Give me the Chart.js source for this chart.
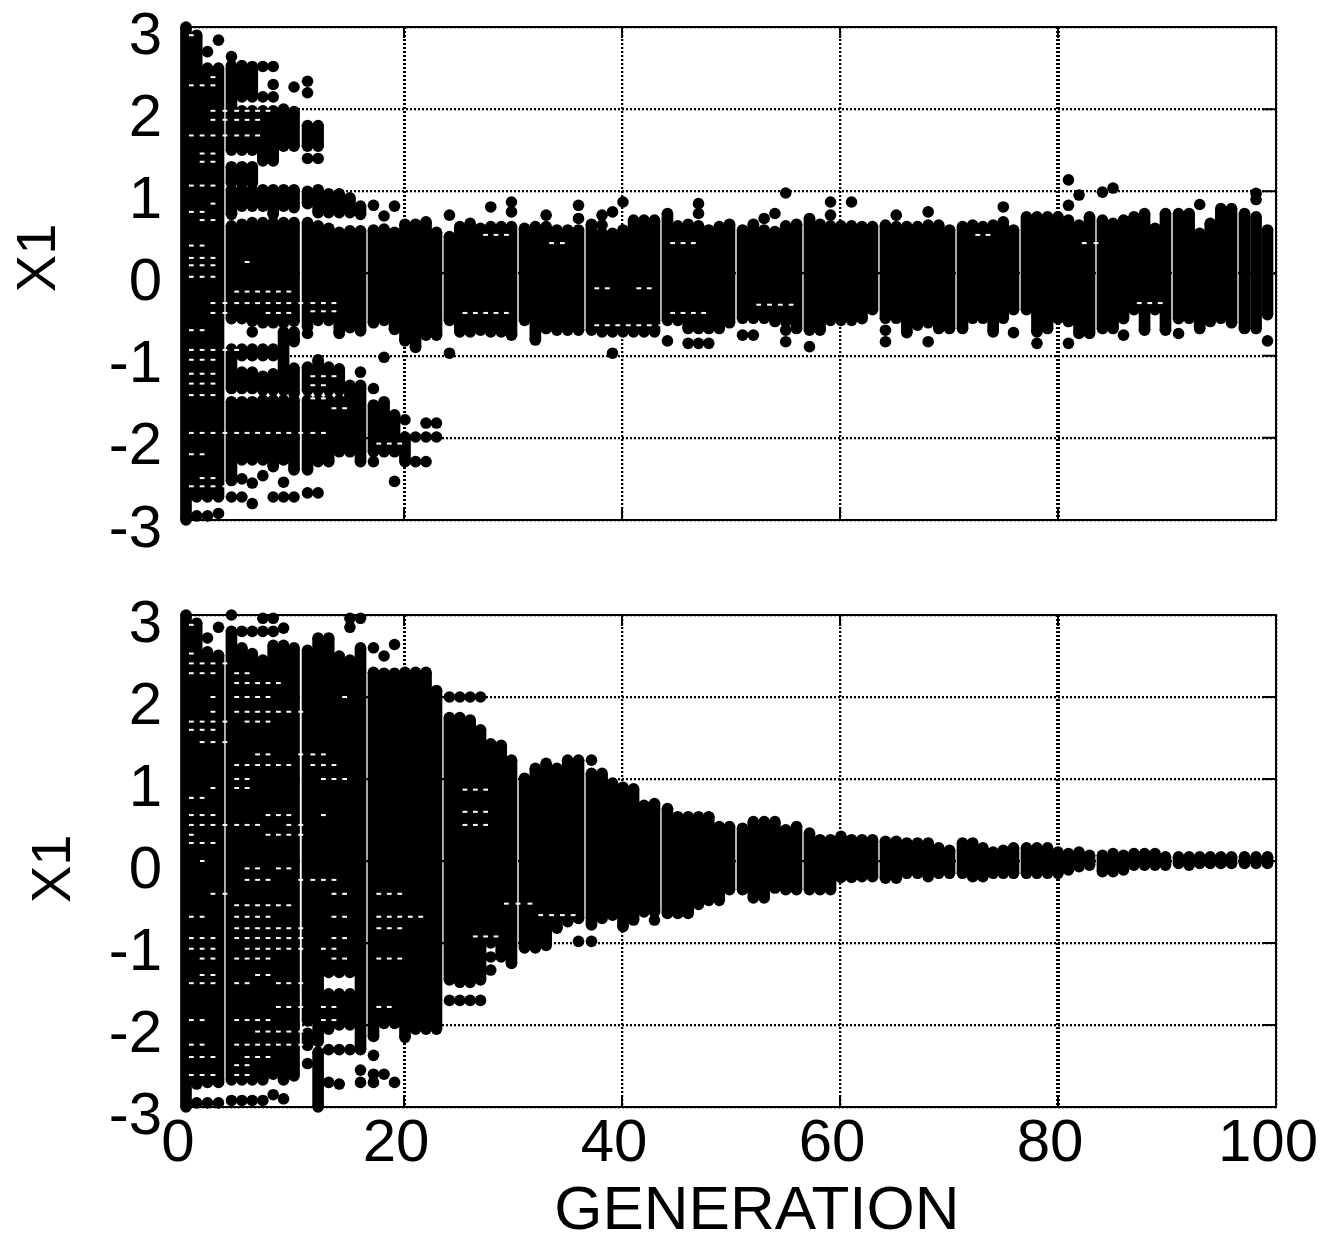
<!DOCTYPE html>
<html>
<head>
<meta charset="utf-8">
<title>X1 by generation</title>
<script src="https://cdn.jsdelivr.net/npm/chart.js@4/dist/chart.umd.js"></script>
<style>
  html, body { margin: 0; padding: 0; background: #fff; }
  canvas { position: absolute; left: 0; }
  #topChart { top: 0; }
  #bottomChart { top: 590px; }
</style>
</head>
<body>
<canvas id="topChart" width="1339" height="590"></canvas>
<canvas id="bottomChart" width="1339" height="653"></canvas>
<script>
// x position of each plotted column (generation units)
const generations = [
  0, 0.98, 1.97, 2.98,
  4.17, 5.13, 6.08, 7.05, 8.0, 8.95, 9.91,
  11.15, 12.12, 13.09, 14.06, 15.04, 16.01,
  17.2, 18.17, 19.13, 20.09, 21.06, 22.02, 22.98,
  24.17, 25.12, 26.07, 27.02, 27.96, 28.92, 29.86,
  31.06, 32.05, 33.04, 34.03, 35.02, 36.01,
  37.2, 38.17, 39.13, 40.09, 41.06, 42.02, 42.98,
  44.17, 45.12, 46.07, 47.02, 47.96, 48.92, 49.86,
  51.06, 52.05, 53.04, 54.03, 55.02, 56.01,
  57.2, 58.17, 59.13, 60.09, 61.06, 62.02, 62.98,
  64.17, 65.16, 66.13, 67.11, 68.09, 69.06, 70.05,
  71.24, 72.17, 73.11, 74.05, 74.98, 75.92,
  77.11, 78.07, 79.04, 80, 80.96, 81.93, 82.89,
  84.08, 85.05, 86.01, 86.97, 87.94, 88.9, 89.86,
  91.06, 92.03, 93, 93.97, 94.94, 95.92,
  97.11, 98.17, 99.22
];

const xTickValues = [0, 20, 40, 60, 80, 100];
const yTickValues = [-3, -2, -1, 0, 1, 2, 3];

// one entry per column: a number is a lone individual, [hi, lo] is a packed run of them
const topColumns = [
  [[3,-3]],
  [[2.9,-2.72],-2.95],
  [2.7,[2.5,-2.72],-2.95],
  [2.84,[2.5,-2.72],-2.92],
  [2.64,[2.53,1.5],[1.3,1.1],[1.02,.72],[.58,-.55],[-.92,-1.4],[-1.56,-2.52],-2.72],
  [[2.53,2.15],[1.98,1.5],[1.3,1.1],[1.02,.82],[.6,-.55],[-.92,-1.0],[-1.2,-1.4],[-1.56,-2.27],-2.5,-2.72],
  [[2.52,2.15],[1.98,1.5],[1.3,1.1],[1.02,.82],[.62,-.58],-.71,[-.92,-1.0],[-1.2,-1.4],[-1.56,-2.27],-2.55,-2.8],
  [2.52,2.15,[1.98,1.37],[1.02,.82],[.62,-.6],[-.92,-1.0],[-1.25,-1.42],[-1.54,-2.27],-2.46],
  [2.52,2.3,2.15,[1.98,1.37],[1.02,.72],[.62,-.6],[-.92,-1.0],[-1.22,-1.42],[-1.54,-2.35],-2.72],
  [[2.0,1.55],[1.02,.82],[.62,-.6],[-.71,-1.42],[-1.54,-2.27],-2.54,-2.72],
  [2.27,[1.97,1.55],[1.02,.8],[.62,-.58],[-.71,-.83],[-1.15,-1.46],[-1.54,-2.39],-2.72],
  [2.34,2.2,[1.8,1.55],1.4,[1,.85],[.62,-.65],-.73,[-1.14,-1.42],[-1.54,-2.39],-2.67],
  [[1.8,1.55],1.4,[1.02,.74],[.58,-.57],[-1.05,-1.42],[-1.54,-2.29],-2.67],
  [[.97,.74],[.55,-.57],[-1.14,-1.42],[-1.54,-2.29]],
  [[.97,.74],[.5,-.73],[-1.16,-1.42],[-1.54,-2.17]],
  [[.92,.74],[.52,-.66],[-1.36,-2.17]],
  [[.82,.72],[.52,-.7],-1.2,[-1.36,-2.29]],
  [.83,[.53,-.6],-1.4,[-1.6,-2.17],-2.29],
  [.7,[.54,-.57],-1.02,[-1.56,-2.17]],
  [.82,[.5,-.68],[-1.72,-2.17],-2.53],
  [[.6,-.82],-1.78,[-1.99,-2.29]],
  [[.6,-.9],-1.99,-2.29],
  [[.63,-.75],-1.82,-1.99,-2.29],
  [[.5,-.75],-1.82,-1.99],
  [.71,[.45,-.57],-.97], [[.57,-.71]], [[.61,-.71]], [[.55,-.69]], [.81,[.57,-.71]], [[.57,-.71]], [.87,.75,[.57,-.75]],
  [[.55,-.57]], [[.57,-.81]], [.71,[.57,-.67]], [[.53,-.69]], [[.53,-.69]], [.83,.67,[.53,-.69]],
  [[.6,-.69]], [.71,.59,[.49,-.71]], [.75,[.49,-.71],-.97], [.87,[.53,-.71]], [[.65,-.71]], [[.65,-.71]], [[.65,-.71]],
  [[.73,-.57],-.82], [[.58,-.57]], [[.6,-.67],-.85], [.85,.73,[.58,-.67],-.85], [[.53,-.67],-.85], [[.57,-.67]], [[.6,-.6]],
  [[.53,-.545],-.75], [[.6,-.545],-.75], [.67,[.53,-.545]], [.73,[.51,-.585]], [.98,[.58,-.585],-.69,-.83], [[.6,-.67]],
  [[.67,-.69],-.89], [[.6,-.69]], [.87,.71,[.58,-.57]], [[.58,-.57]], [.87,[.58,-.57]], [[.57,-.55]], [[.57,-.44]],
  [[.59,-.545],-.69,-.83], [.71,[.57,-.545]], [[.57,-.72]], [[.57,-.63]], [.75,[.59,-.6],-.83], [[.59,-.67]], [[.53,-.67]],
  [[.57,-.67]], [[.59,-.545]], [[.57,-.545]], [[.59,-.71]], [.81,[.63,-.545]], [[.53,-.44],-.72],
  [[.69,-.44]], [[.69,-.71],-.85], [[.69,-.67]], [[.69,-.55]], [1.14,.83,[.65,-.585],-.85], [.955,[.59,-.73]], [[.69,-.73]],
  [.99,[.65,-.67]], [1.04,[.61,-.67]], [[.65,-.55],-.75], [[.69,-.44]], [[.73,-.69]], [[.55,-.44]], [[.73,-.69]],
  [[.73,-.55],-.73], [[.73,-.545]], [.84,[.49,-.67]], [[.61,-.585]], [[.79,-.545]], [[.79,-.6]],
  [[.73,-.67]], [.975,.9,[.69,-.67]], [[.53,-.5],-.82]
];

const bottomColumns = [
  [[3,-3]],
  [[2.9,-2.72],-2.95],
  [2.72,[2.55,-2.7],-2.95],
  [2.85,[2.51,-2.7],-2.95],
  [3,[2.8,-2.67],-2.92],
  [2.8,[2.6,-2.67],-2.92],
  [2.8,[2.53,-2.67],-2.92],
  [2.96,2.8,[2.45,-2.67],-2.92],
  [2.96,2.8,[2.63,-2.6],-2.85],
  [2.84,[2.63,-2.67],-2.9],
  [[2.6,-2.62]],
  [[2.57,-1.95],[-2.1,-2.25],-2.47],
  [[2.72,-2.2],[-2.33,-3]],
  [[2.72,-1.36],[-1.62,-2.05],-2.3,-2.7],
  [[2.5,-1.36],[-1.62,-2.0],-2.3,-2.72],
  [2.96,2.85,[2.45,-1.36],[-1.62,-2.0],-2.3],
  [2.96,[2.6,-2.3],-2.55,-2.7],
  [2.6,[2.3,-2.14],-2.37,-2.6,-2.7],
  [2.5,[2.29,-1.98],-2.6],
  [2.64,[2.29,-1.98],-2.7],
  [[2.3,-2.15]],
  [[2.3,-2.05]],
  [[2.3,-2.05]],
  [[2.08,-2.05]],
  [2.0,[1.75,-1.45],-1.7], [2.0,[1.75,-1.48],-1.7], [2.0,[1.72,-1.48],-1.7], [2.0,[1.6,-1.45],-1.7], [[1.43,-1.0],-1.17,-1.33], [[1.41,-1.17]], [[1.23,-1.25]],
  [[1.01,-1.06]], [[1.13,-1.06]], [[1.19,-1.03]], [[1.13,-.82]], [[1.23,-.74]], [[1.23,-.7],-.98],
  [1.23,[1.07,-.78],-.98], [[1.07,-.7]], [[.95,-.66]], [[.9,-.8]], [[.88,-.72]], [[.68,-.62]], [[.7,-.62],-.72],
  [[.64,-.64]], [[.54,-.64]], [[.54,-.64]], [[.54,-.53]], [[.54,-.48]], [[.42,-.48]], [[.42,-.35]],
  [[.4,-.35]], [[.48,-.45]], [[.48,-.45]], [[.48,-.33]], [[.38,-.35]], [[.42,-.35]],
  [[.34,-.35]], [[.26,-.35]], [[.26,-.35]], [[.3,-.2]], [[.26,-.2]], [[.26,-.19]], [[.26,-.19]],
  [[.24,-.21]], [[.24,-.21]], [[.22,-.15]], [[.22,-.15]], [[.22,-.19]], [[.16,-.15]], [[.13,-.15]],
  [[.22,-.15]], [[.22,-.19]], [[.16,-.19]], [[.11,-.15]], [[.13,-.15]], [[.16,-.15]],
  [[.16,-.15]], [[.16,-.15]], [[.16,-.15]], [[.11,-.15]], [[.09,-.11]], [[.11,-.07]], [[.07,-.05]],
  [[.07,-.13]], [[.09,-.13]], [[.07,-.11]], [[.09,-.05]], [[.09,-.05]], [[.09,-.05]], [[.05,-.05]],
  [[.05,-.03]], [[.05,-.05]], [[.05,-.03]], [[.05,-.03]], [[.05,-.03]], [[.05,-.03]],
  [[.05,-.03]], [[.05,-.03]], [[.05,-.03]]
];

// small unfilled gaps inside the packed runs: [value, first column, last column]
const topGaps = [
  [2.9,0,0],[2.39,2,2],[2.29,0,2],[1.98,2,7],[1.87,2,6],[1.68,0,3],[1.68,4,6],[1.46,1,2],[1.36,1,2],
  [1.07,0,2],[.85,2,2],[.75,0,1],[.65,1,2],[.34,0,1],[.19,0,2],[.14,5,5],[.1,0,2],[-.04,0,2],
  [-.22,4,9],[-.36,2,13],[-.48,2,3],[-.48,7,9],[-.46,11,13],[-.69,0,1],[-.93,0,4],[-1.05,0,2],
  [-1.22,0,2],[-1.34,0,2],[-1.48,0,2],[-1.48,4,5],[-1.25,11,13],[-1.36,11,12],[-1.52,11,12],[-1.64,13,14],
  [-1.94,0,12],[-2.2,0,1],[-2.49,1,2],[-2.59,0,3],[-2.07,17,19],
  [.47,27,29],[-.48,25,29],[-.63,37,43],[-.18,37,38],[-.18,41,42],[.37,33,34],[.37,44,46],[-.48,44,47],
  [-.38,52,55],[.47,72,73],[-.36,87,89],[.37,82,83]
];

const bottomGaps = [
  [2.88,0,0],[2.53,0,0],[2.41,0,3],[2.29,0,2],[2.29,4,5],[2.17,4,8],[2.0,2,2],[2.0,4,7],[2.0,14,14],
  [1.82,2,2],[1.82,4,7],[1.82,8,10],[1.7,0,3],[1.7,5,7],[1.6,0,2],[1.45,1,3],[1.3,6,7],[1.3,10,11],
  [1.3,12,12],[1.17,4,5],[1.17,6,7],[1.17,8,9],[1.17,11,13],[1.0,4,5],[1.0,12,14],[.89,4,5],[.89,2,2],
  [.77,0,1],[.56,0,2],[.56,7,9],[.56,12,12],[.44,0,3],[.44,4,6],[.44,9,10],[.32,0,0],[.32,7,10],[.22,0,2],
  [0,0,1],[-.09,5,6],[-.09,8,9],[-.23,5,7],[-.23,10,11],[-.23,12,13],[-.4,2,3],[-.4,13,14],[-.4,17,19],
  [-.54,4,7],[-.54,8,9],[-.68,0,1],[-.68,4,7],[-.68,13,14],[-.68,17,19],[-.68,20,21],[-.82,4,7],[-.82,8,10],
  [-.82,17,19],[-.94,0,2],[-.94,4,7],[-.94,8,10],[-.94,13,14],[-1.07,0,2],[-1.07,5,7],[-1.07,8,10],[-1.07,12,13],
  [-1.19,1,2],[-1.19,4,5],[-1.19,6,7],[-1.19,13,14],[-1.19,17,19],[-1.39,1,2],[-1.39,6,7],[-1.49,0,2],[-1.49,4,5],[-1.49,8,10],
  [-1.78,8,10],[-1.78,12,13],[-1.78,17,18],[-1.94,0,1],[-1.94,4,7],[-1.94,12,13],[-2.08,6,7],[-2.08,8,10],
  [-2.24,0,1],[-2.24,4,7],[-2.24,8,10],[-2.39,0,2],[-2.39,5,7],[-2.49,4,5],[-2.61,0,2],[-2.61,4,5],
  [.87,25,27],[.6,25,27],[.44,25,27],[-.52,29,31],[-.66,32,35],[-.92,26,28]
];

// inward solid tick marks and the box round each plot
const axisBox = {
  id: 'axisBox',
  afterDatasetsDraw(chart) {
    const { ctx, chartArea: a, scales } = chart;
    ctx.save();
    ctx.strokeStyle = '#000';
    ctx.lineWidth = 2;
    ctx.strokeRect(a.left, a.top, a.right - a.left, a.bottom - a.top);
    ctx.beginPath();
    scales.x.ticks.forEach(t => {
      const px = scales.x.getPixelForValue(t.value);
      ctx.moveTo(px, a.top); ctx.lineTo(px, a.top + 11);
      ctx.moveTo(px, a.bottom); ctx.lineTo(px, a.bottom - 11);
    });
    scales.y.ticks.forEach(t => {
      const py = scales.y.getPixelForValue(t.value);
      ctx.moveTo(a.left, py); ctx.lineTo(a.left + 14, py);
      ctx.moveTo(a.right, py); ctx.lineTo(a.right - 14, py);
    });
    ctx.stroke();
    ctx.restore();
  }
};

function makePlot(canvasId, columns, gaps, opts) {
  const runs = [];
  const dots = [];
  columns.forEach((items, i) => {
    items.forEach(item => {
      if (Array.isArray(item)) {
        runs.push({ x: generations[i], y: [item[1], item[0]] });
        dots.push({ x: generations[i], y: item[0] }, { x: generations[i], y: item[1] });
      } else {
        dots.push({ x: generations[i], y: item });
      }
    });
  });

  const gapDots = [];
  gaps.forEach(g => {
    for (let c = g[1]; c <= g[2]; c++) {
      gapDots.push({ x: (generations[c] + generations[c + 1]) / 2, y: g[0] });
    }
  });

  new Chart(document.getElementById(canvasId), {
    type: 'scatter',
    data: {
      datasets: [
        { label: 'gaps', data: gapDots, order: 0, pointStyle: 'line', pointRadius: 2.4,
          pointBorderWidth: 2, pointBorderColor: '#fff', clip: false },
        { label: 'X1', data: dots, order: 1, pointStyle: 'circle', pointRadius: 5.8,
          pointBackgroundColor: '#000', pointBorderWidth: 0, clip: false },
        { type: 'bar', label: 'X1 runs', data: runs, order: 2, grouped: false,
          barThickness: 11, backgroundColor: '#000', borderWidth: 0, clip: false }
      ]
    },
    options: {
      responsive: false,
      animation: false,
      events: [],
      layout: { padding: { top: opts.top, right: 63, left: 0, bottom: 0 } },
      plugins: { legend: { display: false }, tooltip: { enabled: false } },
      scales: {
        x: {
          type: 'linear', min: 0, max: 100, offset: false,
          afterBuildTicks(s) { s.ticks = xTickValues.map(v => ({ value: v })); },
          afterFit(s) { s.height = opts.xHeight; },
          grid: { offset: false, color: '#000', drawTicks: false,
            lineWidth: ctx => ctx.tick && ctx.tick.value === 80 ? 4 : ctx.tick && ctx.tick.value === 20 ? 3 : 2.3 },
          border: { display: false, dash: [2, 2] },
          ticks: { display: opts.showX, color: '#000', padding: 7, labelOffset: -8, maxRotation: 0, autoSkip: false,
            font: { family: '"Liberation Sans"', size: 60, lineHeight: 1 } },
          title: { display: opts.showX, text: '   GENERATION', color: '#000', padding: { top: 1, bottom: 0 },
            font: { family: '"Liberation Sans"', size: 62, lineHeight: 1 } }
        },
        y: {
          type: 'linear', min: -3, max: 3,
          afterBuildTicks(s) { s.ticks = yTickValues.map(v => ({ value: v })); },
          afterFit(s) { s.width = 186; s.paddingTop = 0; s.paddingBottom = 0; },
          grid: { color: '#000', lineWidth: 2.3, drawTicks: false },
          border: { display: false, dash: [2, 2] },
          ticks: { color: '#000', padding: 24, labelOffset: 10, autoSkip: false,
            font: { family: '"Liberation Sans"', size: 60, lineHeight: 1 } },
          title: { display: true, text: opts.yTitle, color: '#000', padding: { top: opts.yTitlePad, bottom: 0 },
            font: { family: '"Liberation Sans"', size: 56, lineHeight: 1.2 } }
        }
      }
    },
    plugins: [axisBox]
  });
}

makePlot('topChart', topColumns, topGaps,
  { top: 27, xHeight: 70, showX: false, yTitle: '  X1', yTitlePad: 6 });
makePlot('bottomChart', bottomColumns, bottomGaps,
  { top: 25, xHeight: 136, showX: true, yTitle: 'X1 ', yTitlePad: 21 });
</script>
</body>
</html>
